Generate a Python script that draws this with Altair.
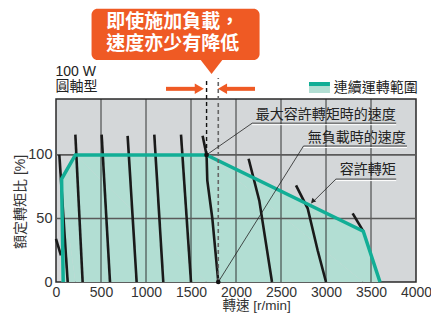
import altair as alt
import pandas as pd

FONT = "Liberation Sans, Noto Sans CJK TC"
ORANGE = "#EF5A24"
TEAL = "#12AE96"
TEAL_FILL = "#B2DED3"

# ---------------- data ----------------
curve_rpm = [[0, 55], [37, 130], [215, 296], [507, 600], [796, 896], [1092, 1192],
             [1389, 1500], [1629, 1673, 1681, 1737, 1803], [2140, 2259, 2400],
             [2667, 2796, 2907, 3000], [3296, 3414]]
curve_pct = [[34, 21], [100, 0], [116, 0], [116, 0], [115, 0], [116, 0],
             [116, 0], [115, 100, 80, 50, 0], [97, 64, 0],
             [76, 58, 25, 0], [54, 40]]
envelope_rpm = [80, 62, 215, 1673, 3414, 3600]
envelope_pct = [0, 81, 100, 100, 40, 0]
x_ticks = [0, 500, 1000, 1500, 2000, 2500, 3000, 3500, 4000]
y_ticks = [0, 50, 100]
x_grid = [500, 1000, 1500, 2000, 2500, 3000, 3500]
y_grid = [50, 100]
max_torque_speed = [1673]
max_torque_pct = [100]
no_load_speed = [1803]
no_load_pct = [0]

label_max = "最大容許轉矩時的速度"
label_noload = "無負載時的速度"
label_allow = "容許轉矩"
legend_label = "連續運轉範圍"
callout_lines = ["即使施加負載，", "速度亦少有降低"]
title_lines = ["100 W", "圓軸型"]
x_title = "轉速 [r/min]"
y_title = "額定轉矩比 [%]"

# ---------------- frames ----------------
rows = []
for i, (rs, ps) in enumerate(zip(curve_rpm, curve_pct)):
    for j, (r, p) in enumerate(zip(rs, ps)):
        rows.append({"curve": i, "order": j, "rpm": r, "pct": p})
curves = pd.DataFrame(rows)
env = pd.DataFrame({"rpm": envelope_rpm, "pct": envelope_pct, "order": list(range(len(envelope_rpm)))})
fill_df = env.iloc[1:].reset_index(drop=True)

XS = alt.Scale(domain=[0, 4000], nice=False, zero=False)
YS = alt.Scale(domain=[0, 144], nice=False, zero=False)
XA = alt.Axis(values=x_ticks, grid=False, ticks=False, domain=False, labelFont=FONT,
              labelFontSize=14, labelColor="#333333", labelPadding=3, labelFlush=False, format="d")
YA = alt.Axis(values=y_ticks, grid=False, ticks=False, domain=False, labelFont=FONT,
              labelFontSize=14.5, labelColor="#333333", labelPadding=4, format="d")


def X(f="rpm"):
    return alt.X(f + ":Q", scale=XS, axis=XA, title=None)


def Y(f="pct"):
    return alt.Y(f + ":Q", scale=YS, axis=YA, title=None)


layers = []

# fill
layers.append(alt.Chart(fill_df).mark_area(color=TEAL_FILL, opacity=1).encode(
    x=X(), y=Y(), order="order:Q"))

# grid
layers.append(alt.Chart(pd.DataFrame({"rpm": x_grid})).mark_rule(color="#222222", strokeWidth=0.9).encode(x=X()))
layers.append(alt.Chart(pd.DataFrame({"pct": y_grid})).mark_rule(color="#5a5a5a", strokeWidth=1.6).encode(y=Y()))

# speed curves
layers.append(alt.Chart(curves).mark_line(color="#1a1a1a", strokeWidth=2.6).encode(
    x=X(), y=Y(), detail="curve:N", order="order:Q"))

# envelope line
layers.append(alt.Chart(env).mark_line(color=TEAL, strokeWidth=3.5).encode(
    x=X(), y=Y(), order="order:Q"))

# dashed markers
dash_black = pd.DataFrame({"rpm": max_torque_speed, "pct": max_torque_pct, "pct2": [160.5]})
dash_gray = pd.DataFrame({"rpm": no_load_speed, "pct": no_load_pct, "pct2": [160.5]})
layers.append(alt.Chart(dash_black).mark_rule(color="#111111", strokeWidth=1.4, strokeDash=[4, 3]).encode(
    x=X(), y=Y(), y2=alt.Y2("pct2:Q")))
layers.append(alt.Chart(dash_gray).mark_rule(color="#666666", strokeWidth=1.6, strokeDash=[4, 3]).encode(
    x=X(), y=Y(), y2=alt.Y2("pct2:Q")))

# leaders and underlines
leaders = pd.DataFrame({
    "rpm": [2180, 2180, 2750, 2750, 3110, 3110],
    "pct": [125, 125, 107, 107, 81, 81],
    "rpm2": [1673, 3780, 1803, 3900, 2840, 3780],
    "pct2": [100, 125, 0, 107, 62, 81],
})
under_white = pd.DataFrame({"rpm": [2180, 2750, 3110], "rpm2": [3780, 3900, 3780], "pct": [123.8, 105.8, 79.8]})
layers.append(alt.Chart(under_white).mark_rule(color="white", strokeWidth=1).encode(
    x=X(), x2=alt.X2("rpm2:Q"), y=Y()))
layers.append(alt.Chart(leaders).mark_rule(color="#222222", strokeWidth=0.8).encode(
    x=X(), y=Y(), x2=alt.X2("rpm2:Q"), y2=alt.Y2("pct2:Q")))

# dots
dots = pd.DataFrame({"rpm": max_torque_speed + no_load_speed, "pct": max_torque_pct + no_load_pct})
layers.append(alt.Chart(dots).mark_circle(color="#111111", size=22, opacity=1).encode(x=X(), y=Y()))

# arrowhead on allowable torque leader
layers.append(alt.Chart(pd.DataFrame({"rpm": [2852], "pct": [63.5]})).mark_point(
    shape="triangle-up", angle=225, filled=True, color="#222222", size=28, opacity=1).encode(x=X(), y=Y()))

# annotation texts
ann = pd.DataFrame({"rpm": [3775, 3885, 3775], "pct": [131.5, 113.3, 88.3],
                    "txt": [label_max, label_noload, label_allow]})
layers.append(alt.Chart(ann).mark_text(font=FONT, fontSize=14, align="right", baseline="middle",
                                       color="#222222").encode(x=X(), y=Y(), text="txt:N"))

# legend
leg_band = pd.DataFrame({"rpm": [2811], "rpm2": [3044], "pct": [157.4], "pct2": [154.2]})
leg_fill = pd.DataFrame({"rpm": [2811], "rpm2": [3044], "pct": [154.2], "pct2": [148.7]})
layers.append(alt.Chart(leg_fill).mark_rect(color=TEAL_FILL).encode(
    x=X(), x2=alt.X2("rpm2:Q"), y=Y(), y2=alt.Y2("pct2:Q")))
layers.append(alt.Chart(leg_band).mark_rect(color=TEAL).encode(
    x=X(), x2=alt.X2("rpm2:Q"), y=Y(), y2=alt.Y2("pct2:Q")))
layers.append(alt.Chart(pd.DataFrame({"rpm": [3085], "pct": [153], "txt": [legend_label]})).mark_text(
    font=FONT, fontSize=14, align="left", baseline="middle", color="#222222").encode(x=X(), y=Y(), text="txt:N"))

# top-left title
layers.append(alt.Chart(pd.DataFrame({"rpm": [-5, -5], "pct": [165.5, 153.5], "txt": title_lines})).mark_text(
    font=FONT, fontSize=14, align="left", baseline="middle", color="#222222").encode(x=X(), y=Y(), text="txt:N"))

# orange arrows
shafts = pd.DataFrame({"rpm": [1222, 1870], "rpm2": [1565, 2211], "pct": [152, 152]})
layers.append(alt.Chart(shafts).mark_rule(color=ORANGE, strokeWidth=4).encode(
    x=X(), x2=alt.X2("rpm2:Q"), y=Y()))
layers.append(alt.Chart(pd.DataFrame({"rpm": [1592], "pct": [152]})).mark_point(
    shape="triangle-right", filled=True, color=ORANGE, size=110, opacity=1).encode(x=X(), y=Y()))
layers.append(alt.Chart(pd.DataFrame({"rpm": [1850], "pct": [152]})).mark_point(
    shape="triangle-left", filled=True, color=ORANGE, size=110, opacity=1).encode(x=X(), y=Y()))

# callout box
layers.append(alt.Chart(pd.DataFrame({"rpm": [395], "rpm2": [2262], "pct": [215.0], "pct2": [174.7]})).mark_rect(
    color=ORANGE, cornerRadius=6).encode(x=X(), x2=alt.X2("rpm2:Q"), y=Y(), y2=alt.Y2("pct2:Q")))
layers.append(alt.Chart(pd.DataFrame({"rpm": [1728], "pct": [172.3]})).mark_point(
    shape="M-1,-0.3L1,-0.3L0,1Z", filled=True, color=ORANGE, size=484, opacity=1).encode(x=X(), y=Y()))
layers.append(alt.Chart(pd.DataFrame({"rpm": [558, 558], "pct": [204.5, 187.5], "txt": callout_lines})).mark_text(
    font=FONT, fontSize=19, fontWeight="bold", align="left", baseline="middle", color="white").encode(
    x=X(), y=Y(), text="txt:N"))

# axis titles
layers.append(alt.Chart(pd.DataFrame({"rpm": [2230], "pct": [-19], "txt": [x_title]})).mark_text(
    font=FONT, fontSize=13.5, align="center", baseline="middle", color="#333333").encode(x=X(), y=Y(), text="txt:N"))
layers.append(alt.Chart(pd.DataFrame({"rpm": [-385], "pct": [63], "txt": [y_title]})).mark_text(
    font=FONT, fontSize=14, align="center", baseline="middle", angle=270, color="#333333").encode(
    x=X(), y=Y(), text="txt:N"))

chart = alt.layer(*layers).properties(
    width=360, height=183,
    autosize=alt.AutoSizeParams(type="none"),
    padding={"left": 48, "top": 91, "right": 15, "bottom": 31},
    background="white",
).configure_view(fill="#D4D7D9", stroke="#2a2a2a", strokeWidth=1.5)

chart.save("out.html", embed_options={"renderer": "svg", "actions": False})
